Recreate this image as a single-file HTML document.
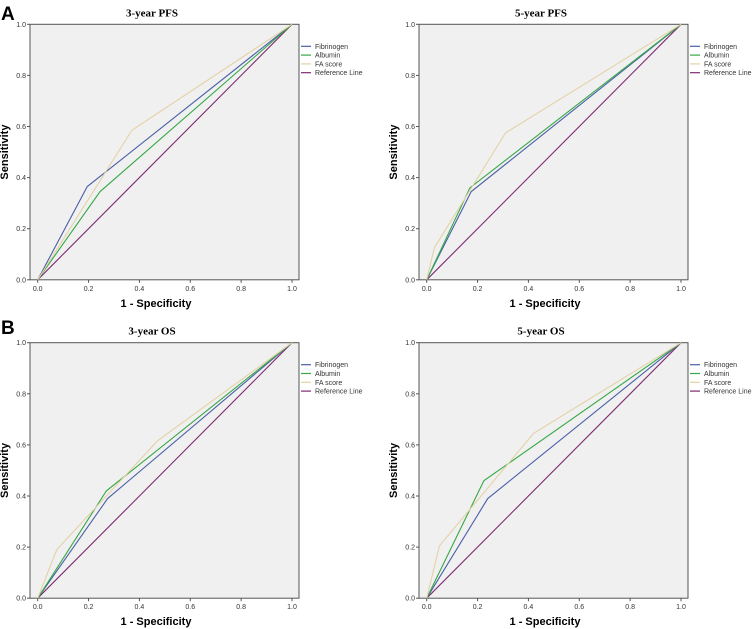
<!DOCTYPE html>
<html><head><meta charset="utf-8"><style>
body{margin:0;background:#fff;}
svg{display:block;font-family:"Liberation Sans",sans-serif;}
</style></head><body>
<svg id="fig" width="753" height="629" viewBox="0 0 753 629">
<text x="1" y="20" font-size="19" font-weight="bold">A</text>
<text x="1" y="334" font-size="19" font-weight="bold">B</text>
</svg>
<script>
const seriesNames = ["Fibrinogen","Albumin","FA score","Reference Line"];
const seriesColors = ["#4a5fa8","#37a846","#e3d2a6","#7e2a72"];
const tickValues = [0,0.2,0.4,0.6,0.8,1.0];
const tickLabels = ["0.0","0.2","0.4","0.6","0.8","1.0"];
const panelTitles = ["3-year PFS","5-year PFS","3-year OS","5-year OS"];
// [fpr array, tpr array] per series per panel
const pfs3Fib = [[0,0.195,1],[0,0.365,1]];
const pfs3Alb = [[0,0.245,1],[0,0.345,1]];
const pfs3FA  = [[0,0.37,1],[0,0.585,1]];
const pfs5Fib = [[0,0.175,1],[0,0.345,1]];
const pfs5Alb = [[0,0.17,1],[0,0.36,1]];
const pfs5FA  = [[0,0.03,0.31,1],[0,0.125,0.575,1]];
const os3Fib = [[0,0.275,1],[0,0.39,1]];
const os3Alb = [[0,0.27,1],[0,0.42,1]];
const os3FA  = [[0,0.075,0.47,1],[0,0.19,0.615,1]];
const os5Fib = [[0,0.24,1],[0,0.39,1]];
const os5Alb = [[0,0.225,1],[0,0.46,1]];
const os5FA  = [[0,0.05,0.42,1],[0,0.205,0.645,1]];
const refLine = [[0,1],[0,1]];

const NS="http://www.w3.org/2000/svg";
const svg=document.getElementById('fig');
function el(tag,attrs,parent,text){const e=document.createElementNS(NS,tag);for(const k in attrs)e.setAttribute(k,attrs[k]);if(text!==undefined)e.textContent=text;(parent||svg).appendChild(e);return e;}

function panel(idx,bx,by,series){
  const g=el('g',{});
  
  
  const bw=269,bh=255.5;
  const x0=bx+7.7,x1=bx+262;
  const sx=v=>x0+v*(x1-x0);
  const sy=v=>by+bh-v*bh;
  const bg=el('rect',{x:bx,y:by,width:bw,height:bh,fill:"#f0f0f0",stroke:"#555",'stroke-width':1},g);
  
  
  const t=el('text',{x:bx+122,y:by-8,'font-size':11,'font-weight':'bold','font-family':'"Liberation Serif",serif','text-anchor':'middle'},g,panelTitles[idx]);
  
  
  tickValues.forEach((v,i)=>{
    el('line',{x1:bx-3,x2:bx,y1:sy(v),y2:sy(v),stroke:"#555"},g);
    const yl=el('text',{x:bx-4,y:sy(v)+2.5,'font-size':7,'text-anchor':'end',fill:"#333"},g,tickLabels[i]);
    
    
    el('line',{x1:sx(v),x2:sx(v),y1:by+bh,y2:by+bh+3,stroke:"#555"},g);
    const xl=el('text',{x:sx(v),y:by+bh+11,'font-size':7,'text-anchor':'middle',fill:"#333"},g,tickLabels[i]);
    
    
  });
  const xt=el('text',{x:bx+126,y:by+bh+27,'font-size':11,'font-weight':'bold','text-anchor':'middle'},g,"1 - Specificity");
  
  
  const yx=bx-22,yy=by+bh/2;
  const yt=el('text',{x:yx,y:yy,'font-size':11,'font-weight':'bold','text-anchor':'middle',transform:`rotate(-90 ${yx} ${yy})`},g,"Sensitivity");
  
  
  [3,0,1,2].forEach(s=>{
    const d=series[s];
    const pts=d[0].map((x,i)=>sx(x)+','+sy(d[1][i])).join(' ');
    const pl=el('polyline',{points:pts,fill:'none',stroke:seriesColors[s],'stroke-width':1.1},g);
    
    
  });
  seriesNames.forEach((n,i)=>{
    const ly=by+22+i*8.8;
    const le=el('g',{},g);
    
    
    el('line',{x1:bx+bw+2,x2:bx+bw+12,y1:ly,y2:ly,stroke:seriesColors[i],'stroke-width':1.2},le);
    el('text',{x:bx+bw+16,y:ly+2.5,'font-size':7,fill:"#333"},le,n);
  });
}
panel(0,30,24.3,[pfs3Fib,pfs3Alb,pfs3FA,refLine]);
panel(1,419,24.3,[pfs5Fib,pfs5Alb,pfs5FA,refLine]);
panel(2,30,342.7,[os3Fib,os3Alb,os3FA,refLine]);
panel(3,419,342.7,[os5Fib,os5Alb,os5FA,refLine]);
</script>
</body></html>
